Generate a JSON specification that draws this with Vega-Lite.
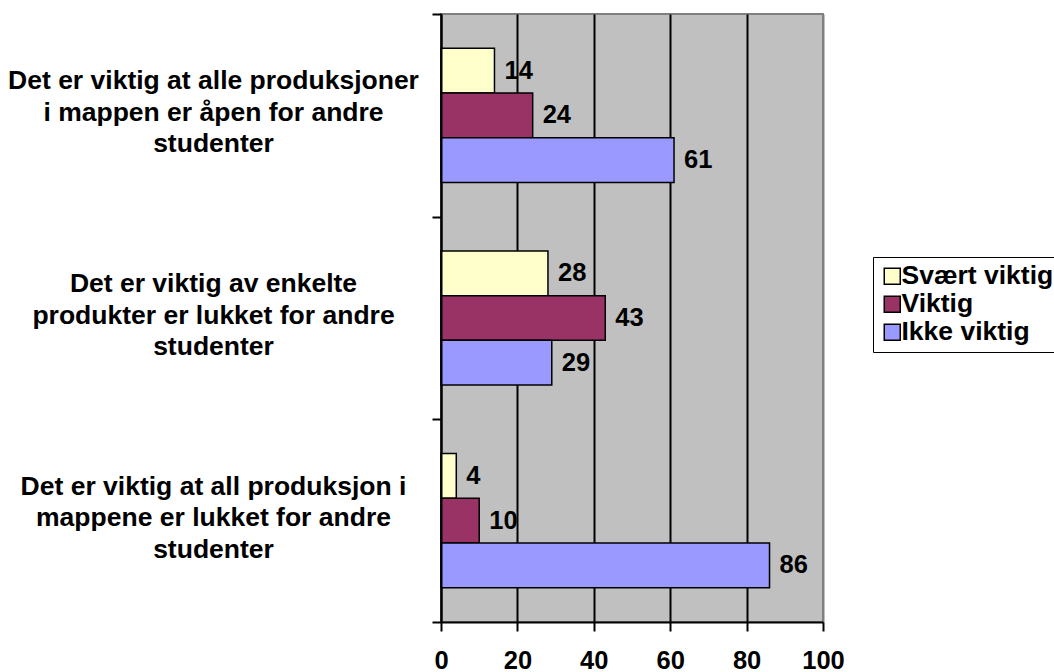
{
  "$schema": "https://vega.github.io/schema/vega-lite/v6.json",
  "width": 382,
  "height": 608,
  "autosize": {"type": "none"},
  "padding": {"left": 441, "top": 14, "right": 231, "bottom": 50},
  "background": "white",
  "config": {
    "font": "Liberation Sans",
    "view": {"fill": "#C0C0C0", "stroke": "#808080", "strokeWidth": 2},
    "legend": {"strokeColor": "black", "padding": 6}
  },
  "data": {
    "values": [
      {"q": "Det er viktig at alle produksjoner|i mappen er åpen for andre|studenter", "s": "Svært viktig", "v": 14},
      {"q": "Det er viktig at alle produksjoner|i mappen er åpen for andre|studenter", "s": "Viktig", "v": 24},
      {"q": "Det er viktig at alle produksjoner|i mappen er åpen for andre|studenter", "s": "Ikke viktig", "v": 61},
      {"q": "Det er viktig av enkelte|produkter er lukket for andre|studenter", "s": "Svært viktig", "v": 28},
      {"q": "Det er viktig av enkelte|produkter er lukket for andre|studenter", "s": "Viktig", "v": 43},
      {"q": "Det er viktig av enkelte|produkter er lukket for andre|studenter", "s": "Ikke viktig", "v": 29},
      {"q": "Det er viktig at all produksjon i|mappene er lukket for andre|studenter", "s": "Svært viktig", "v": 4},
      {"q": "Det er viktig at all produksjon i|mappene er lukket for andre|studenter", "s": "Viktig", "v": 10},
      {"q": "Det er viktig at all produksjon i|mappene er lukket for andre|studenter", "s": "Ikke viktig", "v": 86}
    ]
  },
  "encoding": {
    "y": {
      "field": "q",
      "type": "nominal",
      "sort": null,
      "title": null,
      "scale": {"paddingInner": 0, "paddingOuter": 0},
      "axis": {
        "labelExpr": "split(datum.label, '|')",
        "labelAlign": "center",
        "labelBaseline": "middle",
        "labelPadding": 219,
        "labelOffset": -34.5,
        "labelLimit": 600,
        "labelFontSize": 26.5,
        "labelFontWeight": "bold",
        "labelColor": "black",
        "labelLineHeight": 31.5,
        "tickBand": "extent",
        "tickSize": 9,
        "tickWidth": 2,
        "tickColor": "black",
        "domainColor": "black",
        "domainWidth": 2,
        "grid": false,
        "zindex": 2
      }
    },
    "yOffset": {
      "field": "s",
      "type": "nominal",
      "sort": ["Svært viktig", "Viktig", "Ikke viktig"],
      "scale": {"paddingInner": 0, "paddingOuter": 0.767}
    },
    "x": {
      "field": "v",
      "type": "quantitative",
      "title": null,
      "scale": {"domain": [0, 100], "nice": false},
      "axis": {
        "values": [0, 20, 40, 60, 80, 100],
        "labelFontSize": 25.5,
        "labelFontWeight": "bold",
        "labelColor": "black",
        "labelPadding": 17,
        "labelFlush": false,
        "tickSize": 9,
        "tickWidth": 2,
        "tickColor": "black",
        "domainColor": "black",
        "domainWidth": 2,
        "grid": true,
        "gridColor": {"condition": {"test": "datum.value === 100", "value": "#808080"}, "value": "black"},
        "gridWidth": 2,
        "gridOpacity": 1
      }
    }
  },
  "layer": [
    {
      "mark": {"type": "bar", "stroke": "black", "strokeWidth": 1.5},
      "encoding": {
        "color": {
          "field": "s",
          "type": "nominal",
          "scale": {"domain": ["Svært viktig", "Viktig", "Ikke viktig"], "range": ["#FFFFCC", "#993366", "#9999FF"]},
          "legend": {
            "title": null,
            "orient": "none",
            "legendX": 432,
            "legendY": 243,
            "symbolType": "square",
            "symbolSize": 256,
            "symbolStrokeColor": "black",
            "symbolStrokeWidth": 1.5,
            "symbolOpacity": 1,
            "labelFontSize": 26.5,
            "labelFontWeight": "bold",
            "labelColor": "black",
            "labelOffset": -4,
            "labelLimit": 400,
            "rowPadding": 1
          }
        }
      }
    },
    {
      "mark": {"type": "text", "align": "left", "baseline": "middle", "dx": 10, "fontSize": 25.5, "fontWeight": "bold", "color": "black"},
      "encoding": {"text": {"field": "v", "type": "quantitative"}}
    }
  ]
}
